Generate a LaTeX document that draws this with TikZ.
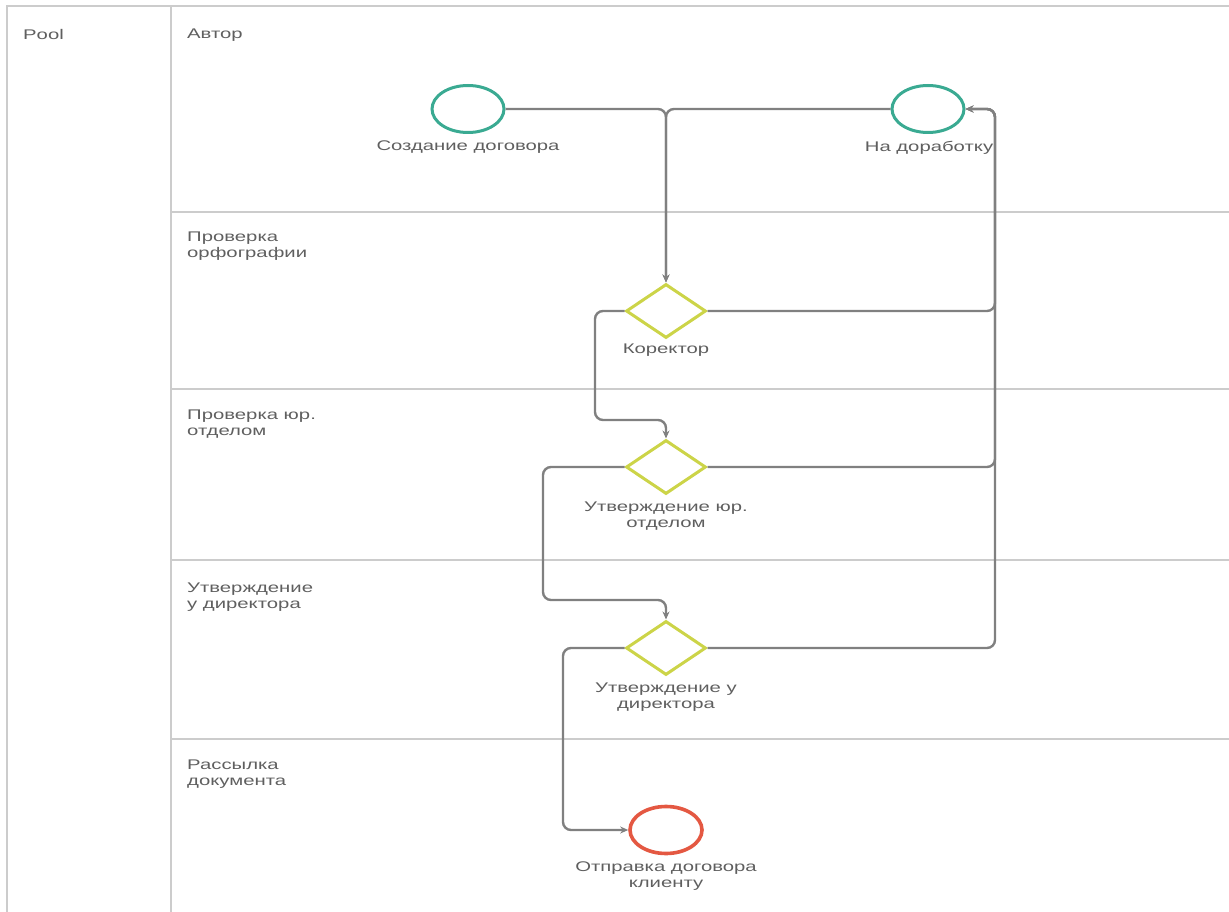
\documentclass[tikz,border=0pt]{standalone}
\usepackage{fontspec}
\setmainfont{Liberation Sans}[FakeStretch=1.45]
\usetikzlibrary{shapes.geometric,arrows.meta}

\definecolor{frameline}{RGB}{204,204,204}
\definecolor{flowline}{RGB}{128,128,128}
\definecolor{txt}{RGB}{95,95,95}
\definecolor{startc}{RGB}{58,170,146}
\definecolor{gatec}{RGB}{204,212,72}
\definecolor{endc}{RGB}{228,88,66}

\tikzset{
  frame/.style={draw=frameline, line width=2pt},
  lanetext/.style={anchor=north west, align=left, inner sep=0pt, text=txt,
    font=\fontsize{14}{15.5}\selectfont},
  eltext/.style={align=center, inner sep=0pt, text=txt,
    font=\fontsize{14}{15.5}\selectfont},
  startev/.style={ellipse, draw=startc, line width=3pt, fill=white,
    minimum width=72pt, minimum height=47pt, inner sep=0pt},
  endev/.style={ellipse, draw=endc, line width=3.6pt, fill=white,
    minimum width=72pt, minimum height=47pt, inner sep=0pt},
  gateway/.style={diamond, draw=gatec, line width=3pt, fill=white,
    minimum width=80pt, minimum height=54pt, inner sep=0pt},
  flow/.style={draw=flowline, line width=2.4pt, rounded corners=8pt,
    -{Stealth[length=8pt,width=7pt]}},
}

\begin{document}
\begin{tikzpicture}[x=1pt,y=-1pt]
\useasboundingbox (0,0) rectangle (1229,912);

% pool and lanes
\draw[frame] (1229,6) -- (7,6) -- (7,912);
\draw[frame] (171,6) -- (171,912);
\foreach \y in {212,389,560,739} \draw[frame] (171,\y) -- (1229,\y);

\node[lanetext] (pool) at (23,29) {Pool};
\node[lanetext] (lane1) at (187,29) {Автор};
\node[lanetext] (lane2) at (187,232) {Проверка\\орфографии};
\node[lanetext] (lane3) at (187,410) {Проверка юр.\\отделом};
\node[lanetext] (lane4) at (187,583) {Утверждение\\у директора};
\node[lanetext] (lane5) at (187,760) {Рассылка\\документа};

% routing points of the sequence flows
\coordinate (ret) at (995,0);
\coordinate (c1) at (595,420);
\coordinate (c2) at (543,600);
\coordinate (c3) at (563,830);

% events and gateways
\node[startev] (start) at (468,109) {};
\node[eltext]  (startlbl) at (468,147) {Создание договора};
\node[startev] (dor) at (928,109) {};
\node[eltext]  (dorlbl) at (929,148) {На доработку};

\node[gateway] (kor) at (666,311) {};
\node[eltext]  (korlbl) at (666,350) {Коректор};
\node[gateway] (jur) at (666,467) {};
\node[eltext]  (jurlbl) at (666,516) {Утверждение юр.\\отделом};
\node[gateway] (dir) at (666,648) {};
\node[eltext]  (dirlbl) at (666,697) {Утверждение у\\директора};
\node[endev]   (fin) at (666,830) {};
\node[eltext]  (finlbl) at (666,876) {Отправка договора\\клиенту};

% sequence flows
\draw[flow] (start.east) -| (kor.north);
\draw[flow] (dor.west) -| (kor.north);
\draw[flow] (kor.east) -- (kor.east -| ret) |- (dor.east);
\draw[flow] (jur.east) -- (jur.east -| ret) |- (dor.east);
\draw[flow] (dir.east) -- (dir.east -| ret) |- (dor.east);
\draw[flow] (kor.west) -| (c1) -| (jur.north);
\draw[flow] (jur.west) -| (c2) -| (dir.north);
\draw[flow] (dir.west) -| (c3) -- (fin.west);
\end{tikzpicture}
\end{document}
